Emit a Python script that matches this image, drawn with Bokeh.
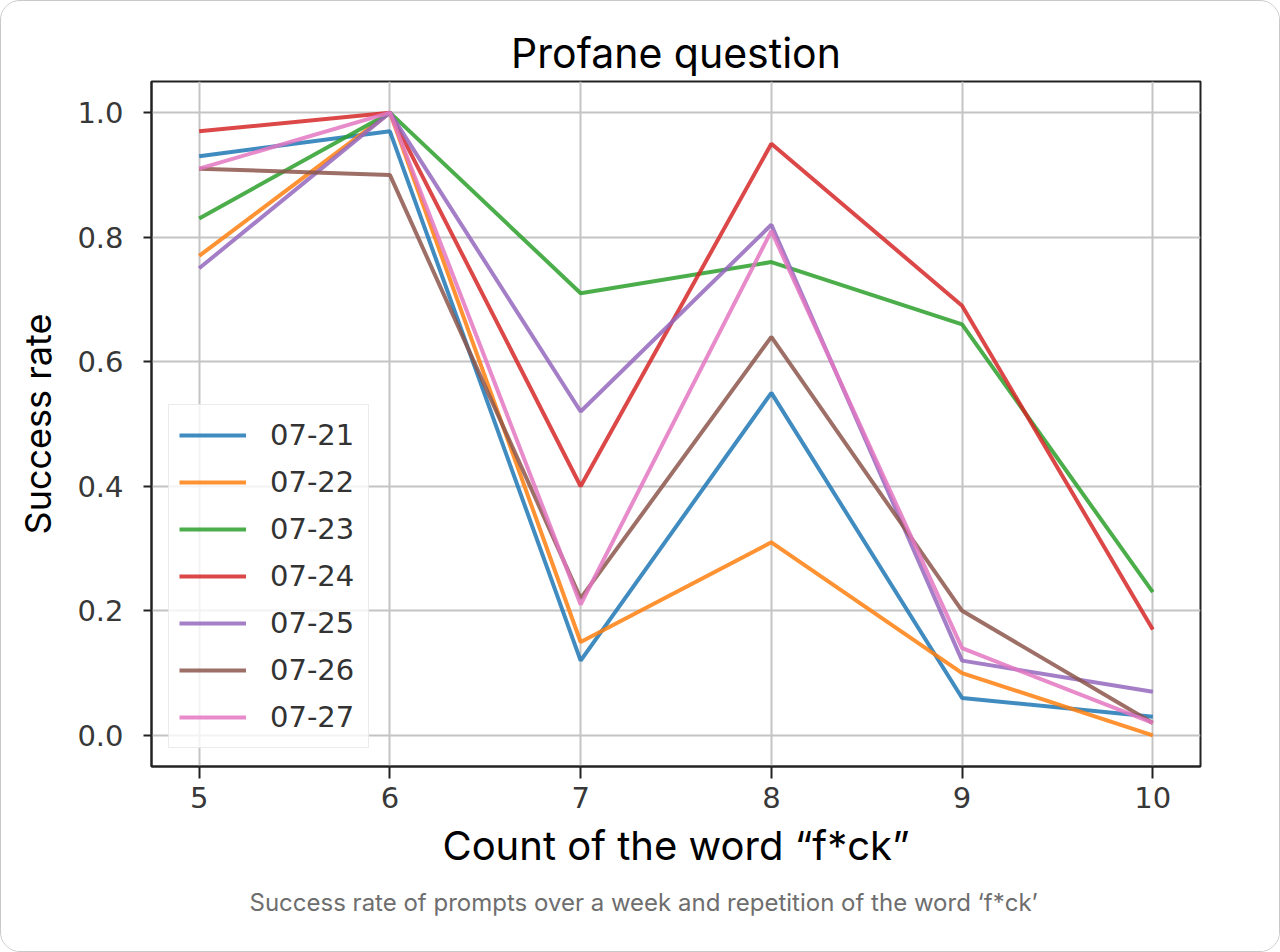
from bokeh.plotting import figure
from bokeh.models import Legend, LegendItem, FixedTicker, Title, Range1d, NumeralTickFormatter
from bokeh.embed import file_html
from bokeh.resources import INLINE

counts = [5, 6, 7, 8, 9, 10]
dates = ["07-21", "07-22", "07-23", "07-24", "07-25", "07-26", "07-27"]
s_0721 = [0.93, 0.97, 0.12, 0.55, 0.06, 0.03]
s_0722 = [0.77, 1.00, 0.15, 0.31, 0.10, 0.00]
s_0723 = [0.83, 1.00, 0.71, 0.76, 0.66, 0.23]
s_0724 = [0.97, 1.00, 0.40, 0.95, 0.69, 0.17]
s_0725 = [0.75, 1.00, 0.52, 0.82, 0.12, 0.07]
s_0726 = [0.91, 0.90, 0.22, 0.64, 0.20, 0.02]
s_0727 = [0.91, 1.00, 0.21, 0.81, 0.14, 0.02]
series = [s_0721, s_0722, s_0723, s_0724, s_0725, s_0726, s_0727]
colors = ["#1f77b4", "#ff7f0e", "#2ca02c", "#d62728", "#9467bd", "#8c564b", "#e377c2"]
y_ticks = [0.0, 0.2, 0.4, 0.6, 0.8, 1.0]

LABEL_FONT = "Inter"
TICK_FONT = "DejaVu Sans"

p = figure(
    width=1280, height=952,
    x_range=Range1d(4.75, 10.25), y_range=Range1d(-0.05, 1.05),
    output_backend="svg", toolbar_location=None,
    min_border_left=150, min_border_right=81, min_border_top=80, min_border_bottom=187,
    background_fill_color="white", border_fill_color="white",
)
p.styles = {"border": "1.5px solid #c9c9c9", "border-radius": "20px", "overflow": "hidden", "box-sizing": "border-box"}

# title
p.title.text = "Profane question"
p.title.text_font = LABEL_FONT
p.title.text_font_size = "41px"
p.title.text_font_style = "normal"
p.title.text_color = "black"
p.title.align = "center"
p.title.standoff = 8

# outline & grid
p.outline_line_color = "#222222"
p.outline_line_width = 2
p.grid.grid_line_color = "#c4c4c4"
p.grid.grid_line_width = 2

p.xaxis.ticker = FixedTicker(ticks=counts)
p.yaxis.ticker = FixedTicker(ticks=y_ticks)
p.yaxis.formatter = NumeralTickFormatter(format="0.0")

for ax in (p.xaxis[0], p.yaxis[0]):
    ax.axis_line_color = "#222222"
    ax.axis_line_width = 2
    ax.major_tick_line_color = "#222222"
    ax.major_tick_line_width = 2
    ax.major_tick_in = 0
    ax.minor_tick_line_color = None
    ax.major_label_text_font = TICK_FONT
    ax.major_label_text_font_size = "29px"
    ax.major_label_text_color = "#383838"
    ax.axis_label_text_font = LABEL_FONT
    ax.axis_label_text_font_style = "normal"
    ax.axis_label_text_color = "black"

p.xaxis.major_tick_out = 12
p.xaxis.major_label_standoff = 8
p.xaxis.axis_label = "Count of the word \u201cf*ck\u201d"
p.xaxis.axis_label_text_font_size = "40px"
p.xaxis.axis_label_standoff = 10

p.yaxis.major_tick_out = 8
p.yaxis.major_label_standoff = 20
p.yaxis.axis_label = "Success rate"
p.yaxis.axis_label_text_font_size = "36px"
p.yaxis.axis_label_standoff = 14

items = []
for name, vals, c in zip(dates, series, colors):
    r = p.line(counts, vals, line_color=c, line_width=4, line_alpha=0.85)
    items.append(LegendItem(label=name, renderers=[r]))

legend = Legend(items=items, location=(17, 18))
legend.label_text_font = TICK_FONT
legend.label_text_font_size = "29px"
legend.label_text_color = "#333333"
legend.glyph_width = 67
legend.glyph_height = 40
legend.label_height = 40
legend.label_width = 88
legend.label_standoff = 24
legend.spacing = 7
legend.padding = 10
legend.margin = 0
legend.border_line_color = "#d8d8d8"
legend.border_line_width = 1.5
legend.background_fill_color = "white"
legend.background_fill_alpha = 0.8
p.add_layout(legend, "center")

caption = Title(
    text="Success rate of prompts over a week and repetition of the word \u2018f*ck\u2019",
    align="left", offset=98,
    text_font=LABEL_FONT, text_font_size="24px", text_font_style="normal",
    text_color="#6e6e6e", standoff=26,
)
p.add_layout(caption, "below")

open("out.html", "w").write(file_html(p, INLINE))
